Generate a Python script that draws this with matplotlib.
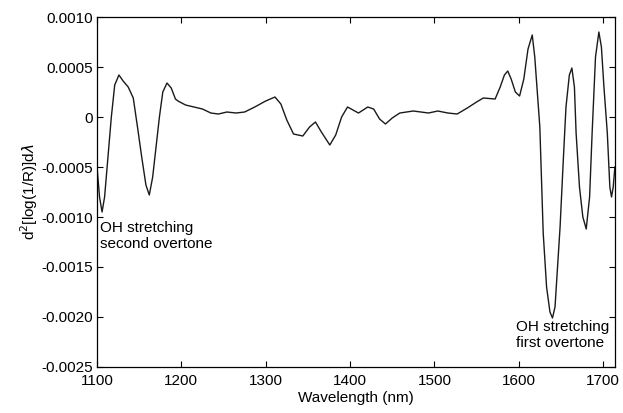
import matplotlib
matplotlib.use("Agg")
import matplotlib.pyplot as plt
from matplotlib.ticker import FuncFormatter

plt.rcParams['font.family'] = ['Liberation Sans', 'DejaVu Sans']

# second-derivative spectrum
wavelength = [1100, 1103, 1106, 1109, 1113, 1117, 1121, 1126, 1131, 1137,
              1143, 1148, 1153, 1158, 1162, 1166, 1170, 1174, 1178, 1183,
              1188, 1193, 1196, 1205, 1215, 1225, 1235, 1244, 1254, 1265,
              1275, 1287, 1300, 1311, 1318, 1325, 1333, 1344, 1352, 1359,
              1366, 1376, 1383, 1390, 1397, 1410, 1421, 1428, 1435, 1442,
              1450, 1459, 1475, 1493, 1504, 1516, 1527, 1539, 1550, 1558,
              1572, 1578, 1583, 1587, 1591, 1596, 1601, 1606, 1611, 1616,
              1619, 1622, 1625, 1629, 1633, 1637, 1640, 1643, 1646, 1649,
              1653, 1656, 1660, 1663, 1666, 1668, 1672, 1676, 1680, 1684,
              1687, 1691, 1695, 1698, 1701, 1705, 1708, 1710, 1712, 1714]
d2 = [-0.00050, -0.00080, -0.00095, -0.00080, -0.00040, 0.00000, 0.00032, 0.00042, 0.00036, 0.00030,
      0.00019, -0.00010, -0.00040, -0.00068, -0.00078, -0.00060, -0.00030, 0.00000, 0.00025, 0.00034,
      0.00029, 0.00018, 0.00016, 0.00012, 0.00010, 0.00008, 0.00004, 0.00003, 0.00005, 0.00004,
      0.00005, 0.00010, 0.00016, 0.00020, 0.00013, -0.00003, -0.00017, -0.00019, -0.00010, -0.00005,
      -0.00015, -0.00028, -0.00018, 0.00000, 0.00010, 0.00004, 0.00010, 0.00008, -0.00002, -0.00007,
      -0.00001, 0.00004, 0.00006, 0.00004, 0.00006, 0.00004, 0.00003, 0.00009, 0.00015, 0.00019,
      0.00018, 0.00030, 0.00042, 0.00046, 0.00038, 0.00025, 0.00021, 0.00038, 0.00068, 0.00082,
      0.00060, 0.00025, -0.00010, -0.00116, -0.00170, -0.00195, -0.00201, -0.00190, -0.00150, -0.00110,
      -0.00040, 0.00010, 0.00042, 0.00049, 0.00030, -0.00016, -0.00070, -0.00100, -0.00112, -0.00080,
      -0.00016, 0.00060, 0.00085, 0.00070, 0.00030, -0.00016, -0.00070, -0.00080, -0.00070, -0.00050]

x_ticks = [1100, 1200, 1300, 1400, 1500, 1600, 1700]
y_ticks = [-0.0025, -0.0020, -0.0015, -0.0010, -0.0005, 0, 0.0005, 0.0010]

fig = plt.figure(figsize=(6.23, 4.13), dpi=100)
ax = fig.add_axes([0.1557, 0.1114, 0.8313, 0.8474])

ax.plot(wavelength, d2, color='#1a1a1a', lw=1.0)

ax.set_xlim(1100, 1714)
ax.set_ylim(-0.0025, 0.0010)
ax.set_xticks(x_ticks)
ax.set_yticks(y_ticks)
ax.yaxis.set_major_formatter(FuncFormatter(lambda v, p: '0' if abs(v) < 1e-12 else f'{v:.4f}'))
ax.tick_params(direction='in', top=True, right=True, length=4, labelsize=11, width=0.8, pad=3)
ax.tick_params(axis='x', pad=5)
for s in ax.spines.values():
    s.set_linewidth(0.9)

ax.set_xlabel('Wavelength (nm)', fontsize=11, labelpad=2)
ax.set_ylabel(r'd$^2$[log(1/R)]d$\lambda$', fontsize=11, labelpad=1)

ax.text(1104, -0.00104, 'OH stretching\nsecond overtone', fontsize=11, va='top', ha='left', linespacing=1.2)
ax.text(1597, -0.00203, 'OH stretching\nfirst overtone', fontsize=11, va='top', ha='left', linespacing=1.2)

fig.savefig('out.png', dpi=100)
